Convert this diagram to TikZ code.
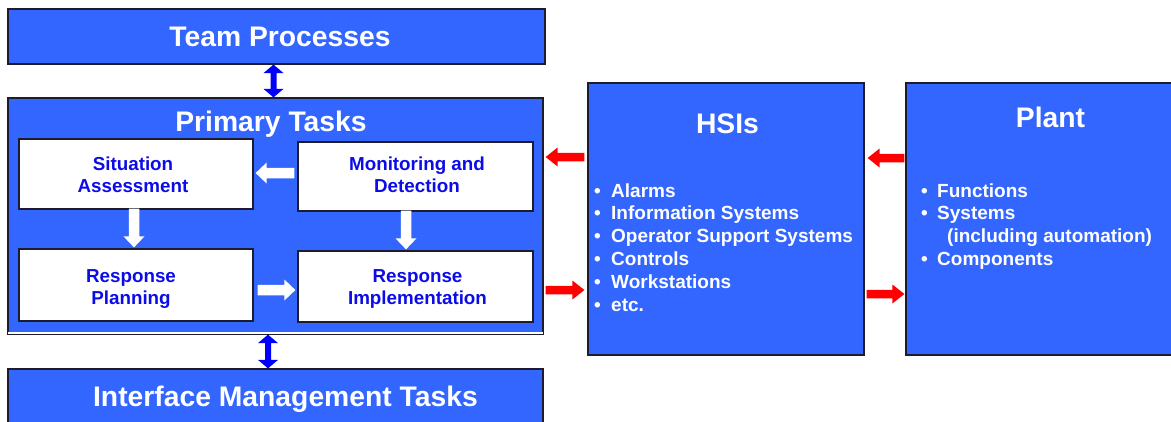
\documentclass[tikz,border=0pt]{standalone}
\usepackage{fontspec}
\setmainfont{Liberation Sans}
\usetikzlibrary{calc}

\definecolor{panelblue}{RGB}{51,102,255}
\definecolor{linkblue}{RGB}{0,0,255}
\definecolor{taskblue}{RGB}{12,12,232}
\definecolor{edgedark}{RGB}{28,28,44}
\definecolor{flowred}{RGB}{255,0,0}

\tikzset{
  panel/.style={draw=edgedark, line width=1.2pt, fill=panelblue, inner sep=0pt},
  taskbox/.style={draw=edgedark, line width=1.3pt, fill=white, inner sep=0pt},
  tasktext/.style={inner sep=0pt, align=center, text=taskblue,
    font=\fontsize{18.8}{22}\selectfont\bfseries},
  bigtitle/.style={text=white, inner sep=0pt,
    font=\fontsize{28.3}{32}\selectfont\bfseries},
  item/.style={anchor=base west, inner sep=0pt, text=white,
    font=\fontsize{19}{23}\selectfont\bfseries},
  % filled block arrow: #1 half shaft width, #2 half head width, #3 head length
  blockarrow/.style n args={3}{to path={
    ($(\tikztotarget)!#3!(\tikztostart)$) coordinate (bahead)
    ($(\tikztostart)!#1!90:(\tikztotarget)$)
      -- ($(bahead)!#1!90:(\tikztotarget)$)
      -- ($(bahead)!#2!90:(\tikztotarget)$)
      -- (\tikztotarget)
      -- ($(bahead)!#2!-90:(\tikztotarget)$)
      -- ($(bahead)!#1!-90:(\tikztotarget)$)
      -- ($(\tikztostart)!#1!-90:(\tikztotarget)$) -- cycle}},
  % filled block arrow with a head at each end
  twinarrow/.style n args={3}{to path={
    ($(\tikztotarget)!#3!(\tikztostart)$) coordinate (tahead)
    ($(\tikztostart)!#3!(\tikztotarget)$) coordinate (tatail)
    (\tikztostart)
      -- ($(tatail)!#2!90:(\tikztotarget)$)
      -- ($(tatail)!#1!90:(\tikztotarget)$)
      -- ($(tahead)!#1!90:(\tikztotarget)$)
      -- ($(tahead)!#2!90:(\tikztotarget)$)
      -- (\tikztotarget)
      -- ($(tahead)!#2!-90:(\tikztotarget)$)
      -- ($(tahead)!#1!-90:(\tikztotarget)$)
      -- ($(tatail)!#1!-90:(\tikztotarget)$)
      -- ($(tatail)!#2!-90:(\tikztotarget)$) -- cycle}},
  bothways/.style={fill=linkblue, twinarrow={3pt}{10pt}{8.5pt}},
  redflow/.style={fill=flowred, blockarrow={4.25pt}{9.5pt}{12pt}},
  whiteflow/.style={fill=white, blockarrow={5.25pt}{10.5pt}{11pt}}
}

\begin{document}
\begin{tikzpicture}[x=1pt,y=1pt]
\useasboundingbox (0,0) rectangle (1171,-421);

% outer blocks
\node[panel, minimum width=537, minimum height=55] (team) at (276.5,-36.5) {};
\node[panel, minimum width=535, minimum height=236] (prim) at (275.5,-216) {};
\node[panel, minimum width=535, minimum height=56] (iface) at (275.5,-397) {};
\node[panel, minimum width=276, minimum height=272] (hsi) at (726,-219) {};
\node[panel, minimum width=289, minimum height=272] (plant) at (1050.5,-219) {};

% light rim just inside the bottom edge of the primary block
\draw[white, line width=1.6pt]
  ([xshift=0.8pt,yshift=1.8pt]prim.south west) -- ([xshift=-0.8pt,yshift=1.8pt]prim.south east);

% titles
\node[bigtitle, anchor=base] (teamT) at (280,-46.5) {Team Processes};
\node[bigtitle, anchor=base] (primT) at (271,-131.5) {Primary Tasks};
\node[bigtitle, anchor=base] (ifaceT) at (285.5,-406) {Interface Management Tasks};
\node[bigtitle, anchor=base] (hsiT) at (727.5,-133) {HSIs};
\node[bigtitle, anchor=base] (plantT) at (1050.5,-127) {Plant};

% primary task steps
\node[taskbox, minimum width=234, minimum height=70] (sa) at (136,-174) {};
\node[taskbox, minimum width=235, minimum height=69] (md) at (415.5,-176.5) {};
\node[taskbox, minimum width=234, minimum height=72] (rp) at (136,-285) {};
\node[taskbox, minimum width=235, minimum height=71] (ri) at (415.5,-286.5) {};

\node[tasktext] (saL) at ([xshift=-3pt,yshift=-1pt]sa.center) {Situation\\Assessment};
\node[tasktext] (mdL) at ([xshift=1.5pt,yshift=2pt]md.center) {Monitoring and\\Detection};
\node[tasktext] (rpL) at ([xshift=-5pt,yshift=-4.5pt]rp.center) {Response\\Planning};
\node[tasktext] (riL) at ([xshift=2pt,yshift=-2pt]ri.center) {Response\\Implementation};

% flow between the steps
\fill[whiteflow] ([xshift=-3pt,yshift=3.5pt]md.west) to ([xshift=2pt,yshift=1pt]sa.east);
\fill[whiteflow] ([xshift=-2pt,yshift=1pt]sa.south) to ([xshift=-2pt,yshift=1pt]rp.north);
\fill[whiteflow] ([xshift=-9.5pt,yshift=1pt]md.south) to ([xshift=-9.5pt,yshift=1pt]ri.north);
\fill[whiteflow] ([xshift=4pt,yshift=-5pt]rp.east) to ([xshift=-2pt,yshift=-3.5pt]ri.west);

% links between the task layers
\fill[bothways] ([xshift=-3pt]team.south) to ([xshift=-2pt]prim.north);
\fill[bothways] ([xshift=-7.5pt]prim.south) to ([xshift=-7.5pt]iface.north);

% HSI and plant exchanges
\fill[redflow] ([xshift=-3pt,yshift=62pt]hsi.west) to ([xshift=2pt,yshift=59pt]prim.east);
\fill[redflow] ([xshift=2pt,yshift=-74pt]prim.east) to ([xshift=-3pt,yshift=-71pt]hsi.west);
\fill[redflow] ([xshift=-1pt,yshift=61pt]plant.west) to ([xshift=3pt,yshift=61pt]hsi.east);
\fill[redflow] ([xshift=2pt,yshift=-75pt]hsi.east) to ([xshift=-1pt,yshift=-75pt]plant.west);

% HSI contents
\foreach \t [count=\i] in {Alarms, Information Systems, Operator Support Systems,
    Controls, Workstations, etc.}
  \node[item, name=hsiItem\i] at (594,{-197-22.8*(\i-1)})
    {\makebox[17pt][l]{\textbullet}\t};

% plant contents
\node[item] (plantA) at (921,-197) {\makebox[16pt][l]{\textbullet}Functions};
\node[item] (plantB) at (921,-219.8) {\makebox[16pt][l]{\textbullet}Systems};
\node[item] (plantC) at (947,-242.6) {(including automation)};
\node[item] (plantD) at (921,-265.4) {\makebox[16pt][l]{\textbullet}Components};
\end{tikzpicture}
\end{document}
